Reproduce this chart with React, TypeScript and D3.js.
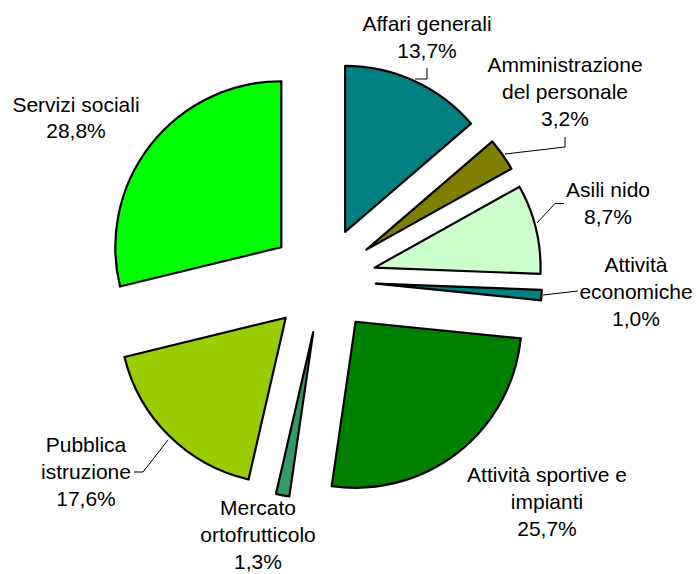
import React from "react";
import * as d3 from "d3";

const categories: string[][] = [
  ["Affari generali"],
  ["Amministrazione", "del personale"],
  ["Asili nido"],
  ["Attività", "economiche"],
  ["Attività sportive e", "impianti"],
  ["Mercato", "ortofrutticolo"],
  ["Pubblica", "istruzione"],
  ["Servizi sociali"],
];
const values: number[] = [13.7, 3.2, 8.7, 1.0, 25.7, 1.3, 17.6, 28.8];
const colors: string[] = [
  "#008080",
  "#808000",
  "#CCFFCC",
  "#008080",
  "#008000",
  "#339966",
  "#99CC00",
  "#00FF00",
];

// layout (label centre x, first baseline y) and leader lines
const labelPos: [number, number][] = [
  [427, 31],
  [565, 72],
  [608, 197],
  [636, 272],
  [547, 482],
  [258, 515],
  [86, 452],
  [76, 111.5],
];
const leaders: ([number, number][] | null)[] = [
  [[415, 79], [427, 79], [427, 68]],
  [[505, 154], [565, 147], [565, 137]],
  [[537, 223], [555, 203.5], [564, 203.5]],
  [[543, 295], [578, 291]],
  null,
  null,
  [[168, 440], [143, 472], [134, 472]],
  null,
];

const W = 700;
const H = 574;
const CX = 323;
const CY = 280;
const R = 166;
const EXPLODE = 53;
const LINE_H = 26.8;

export default function App() {
  const pie = d3
    .pie<number>()
    .sort(null)
    .value((d) => d)
    .startAngle(0)
    .endAngle(2 * Math.PI);
  const arcs = pie(values);
  const arc = d3.arc<d3.PieArcDatum<number>>().innerRadius(0).outerRadius(R);
  const fmt = (v: number) => d3.format(".1f")(v).replace(".", ",") + "%";
  const line = d3.line();

  return (
    <svg
      width={W}
      height={H}
      style={{ position: "absolute", left: 0, top: 0, background: "#fff" }}
      fontFamily="'Liberation Sans', Arial, sans-serif"
      fontSize={21}
    >
      <g transform={`translate(${CX},${CY})`}>
        {arcs.map((a, i) => {
          const mid = (a.startAngle + a.endAngle) / 2;
          const dx = Math.sin(mid) * EXPLODE;
          const dy = -Math.cos(mid) * EXPLODE;
          return (
            <path
              key={i}
              d={arc(a) || ""}
              transform={`translate(${dx},${dy})`}
              fill={colors[i]}
              stroke="#000"
              strokeWidth={2.2}
              strokeLinejoin="round"
            />
          );
        })}
      </g>
      {leaders.map((l, i) =>
        l ? (
          <path
            key={"l" + i}
            d={line(l) || ""}
            fill="none"
            stroke="#000"
            strokeWidth={1}
          />
        ) : null
      )}
      {categories.map((lines, i) => {
        const [x, y] = labelPos[i];
        const all = [...lines, fmt(values[i])];
        return (
          <text key={"t" + i} textAnchor="middle" fill="#000">
            {all.map((s, j) => (
              <tspan key={j} x={x} y={y + j * LINE_H}>
                {s}
              </tspan>
            ))}
          </text>
        );
      })}
    </svg>
  );
}
